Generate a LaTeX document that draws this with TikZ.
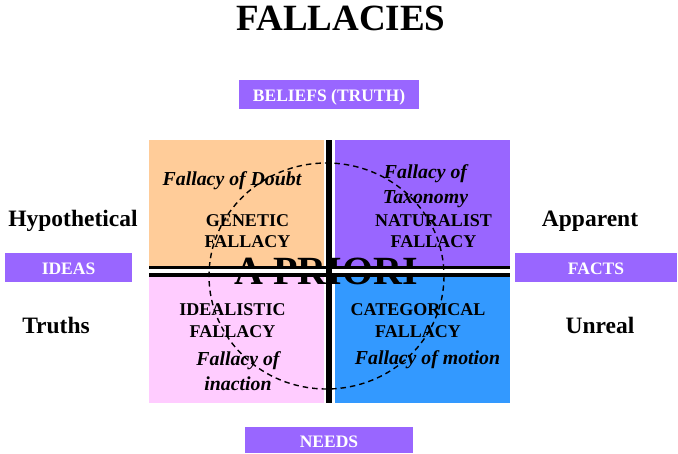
\documentclass[tikz,border=0pt]{standalone}
\usepackage{fontspec}
\setmainfont{Liberation Serif}
\definecolor{qorange}{HTML}{FFCC99}
\definecolor{qpurple}{HTML}{9966FF}
\definecolor{qpink}{HTML}{FFCCFF}
\definecolor{qblue}{HTML}{3399FF}
\definecolor{boxpurple}{HTML}{9966FF}
\tikzset{
  caps/.style={font=\fontsize{18}{21.5}\selectfont\bfseries, align=center, inner sep=0pt},
  ital/.style={font=\fontsize{19.8}{25}\selectfont\bfseries\itshape, align=center, inner sep=0pt},
  side/.style={font=\fontsize{23.5}{28}\selectfont\bfseries, inner sep=0pt, text height=16pt, text depth=0pt},
  tagbox/.style={fill=boxpurple, text=white, font=\fontsize{17.5}{20}\selectfont\bfseries, inner sep=0pt, text height=14pt, text depth=0pt},
}
\begin{document}
\begin{tikzpicture}[x=1pt,y=-1pt]
\useasboundingbox (0,0) rectangle (678,454);
% quadrants
\fill[qorange] (149,140) rectangle (324,266);
\fill[qpurple] (335,140) rectangle (510,266);
\fill[qpink] (149,276) rectangle (324,403);
\fill[qblue] (335,276) rectangle (510,403);
% title
\node[font=\fontsize{37}{42}\selectfont\bfseries, inner sep=0pt] (title) at (341,18) {FALLACIES};
% tag boxes
\node[tagbox, minimum width=180pt, minimum height=29pt] (beliefs) at (329,94.5) {BELIEFS (TRUTH)};
\node[tagbox, minimum width=168pt, minimum height=26.5pt] (needs) at (329,440) {NEEDS};
\node[tagbox, minimum width=127pt, minimum height=29pt] (ideas) at (68.5,267.5) {IDEAS};
\node[tagbox, minimum width=162pt, minimum height=29pt] (facts) at (596,267.5) {FACTS};
% side labels
\node[side] (hyp) at (73,218.5) {Hypothetical};
\node[side] (truths) at (56,325.5) {Truths};
\node[side] (apparent) at (590,218.5) {Apparent};
\node[side] (unreal) at (600,325.5) {Unreal};
% A PRIORI
\node[font=\fontsize{40}{44}\selectfont\bfseries, inner sep=0pt] (apriori) at (326,271) {A PRIORI};
% quadrant texts
\node[ital] (doubt) at (232,180.5) {Fallacy of Doubt};
\node[caps] (genetic) at (247.5,231) {GENETIC\\FALLACY};
\node[ital] (taxonomy) at (425.5,186) {Fallacy of\\Taxonomy};
\node[caps] (naturalist) at (433.5,231) {NATURALIST\\FALLACY};
\node[caps] (idealistic) at (232.5,320.5) {IDEALISTIC\\FALLACY};
\node[ital] (inaction) at (238,371) {Fallacy of\\inaction};
\node[caps] (categorical) at (418,320.5) {CATEGORICAL\\FALLACY};
\node[ital] (motion) at (427.5,360) {Fallacy of motion};
% double horizontal line
\fill[black] (149,266) rectangle (510,276.7);
\fill[white] (149,269.3) rectangle (510,272.7);
% vertical bar
\fill[black] (325.5,140) rectangle (331.5,403);
% dashed circle
\draw[line width=1.4pt, dash pattern=on 5.5pt off 4pt] (326.5,276) ellipse [x radius=117.5, y radius=113];
\end{tikzpicture}
\end{document}
